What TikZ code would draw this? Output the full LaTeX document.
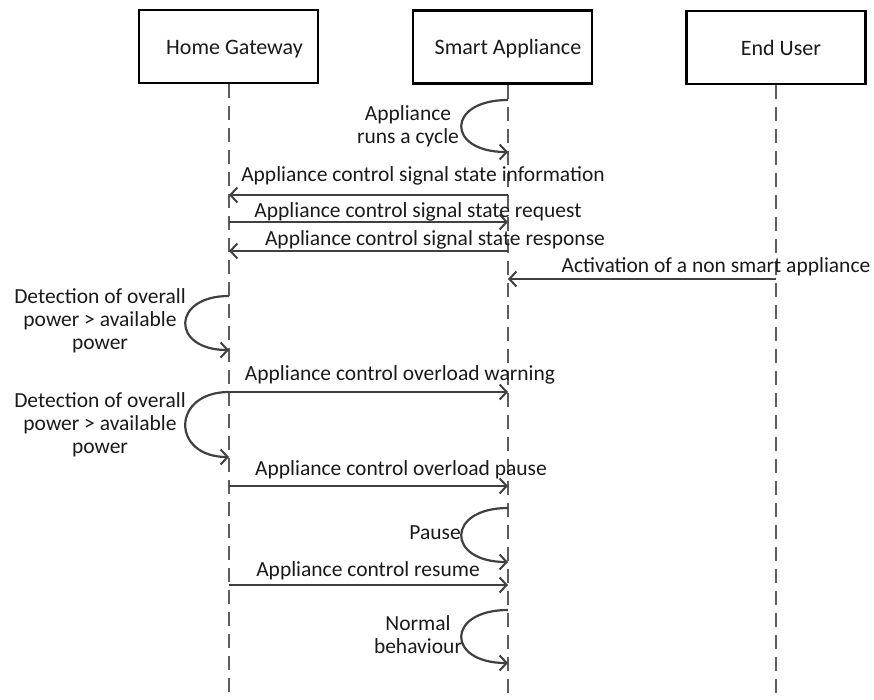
\documentclass[tikz,border=0pt]{standalone}
\usepackage{fontspec}
\setmainfont{Carlito}
\usetikzlibrary{arrows.meta}
\definecolor{ln}{HTML}{404040}
\definecolor{tx}{HTML}{1a1a1a}
\begin{document}
\begin{tikzpicture}[x=1pt,y=-1pt,
  actor/.style={draw=black, line width=2.8pt, minimum width=179pt, minimum height=73pt, inner sep=0pt, text height=20pt, text depth=4.5pt, font=\fontsize{22}{26}\selectfont, text=tx, fill=white},
  life/.style={draw=ln!85, line width=1.6pt, dash pattern=on 14pt off 8pt},
  msg/.style={draw=ln, line width=2.2pt, -{Straight Barb[length=7pt,width=15pt,line width=2pt]}},
  lbl/.style={font=\fontsize{21.5}{23}\selectfont, text=tx, inner sep=0pt},
  mlbl/.style={lbl, align=center}
]
\useasboundingbox (0,0) rectangle (874,700);

% actors
\node[actor] (hg) at (228.5,46.5) {\hspace*{12pt}Home Gateway};
\node[actor] (sa) at (502.5,47) {\hspace*{11pt}Smart Appliance};
\node[actor] (eu) at (776,47.5) {\hspace*{10pt}End User};

% lifelines
\coordinate (hgEnd) at (229,700);
\coordinate (saEnd) at (508,700);
\coordinate (euEnd) at (776,700);
\draw[life] (hg.south -| hgEnd) -- (hgEnd);
\draw[life] (sa.south -| saEnd) -- (saEnd);
\draw[life] (eu.south -| euEnd) -- (euEnd);

% self loop: appliance runs a cycle
\coordinate (c1a) at (508,100);
\coordinate (c1b) at (508,152);
\draw[msg] (c1a) .. controls +(-62,0) and +(-62,0) .. (c1b);
\node[mlbl] (t1) at (408,126) {Appliance\\runs a cycle};

% messages
\coordinate (s2) at (508,195); \coordinate (h2) at (229,195);
\draw[msg] (s2) -- (h2);
\node[lbl] (t2) at (423,176) {Appliance control signal state information};

\coordinate (h3) at (229,222); \coordinate (s3) at (508,222);
\draw[msg] (h3) -- (s3);
\node[lbl] (t3) at (418,212) {Appliance control signal state request};

\coordinate (s4) at (508,251); \coordinate (h4) at (229,251);
\draw[msg] (s4) -- (h4);
\node[lbl] (t4) at (435,240) {Appliance control signal state response};

\coordinate (e5) at (776,279); \coordinate (s5) at (508,279);
\draw[msg] (e5) -- (s5);
\node[lbl] (t5) at (716,267) {Activation of a non smart appliance};

% self loop: detection 1
\coordinate (d1a) at (229,296);
\coordinate (d1b) at (229,350);
\draw[msg] (d1a) .. controls +(-58,0) and +(-58,0) .. (d1b);
\node[mlbl] (t6) at (100,321) {Detection of overall\\power > available\\power};

\coordinate (h7) at (229,392); \coordinate (s7) at (508,392);
\draw[msg] (h7) -- (s7);
\node[lbl] (t7) at (400,375) {Appliance control overload warning};

% self loop: detection 2
\coordinate (d2a) at (229,392);
\coordinate (d2b) at (229,457);
\draw[msg] (d2a) .. controls +(-58,0) and +(-58,0) .. (d2b);
\node[mlbl] (t8) at (100,425) {Detection of overall\\power > available\\power};

\coordinate (h9) at (229,486); \coordinate (s9) at (508,486);
\draw[msg] (h9) -- (s9);
\node[lbl] (t9) at (401,470) {Appliance control overload pause};

% self loop: pause
\coordinate (p1a) at (508,508);
\coordinate (p1b) at (508,562);
\draw[msg] (p1a) .. controls +(-62,0) and +(-62,0) .. (p1b);
\node[lbl, anchor=east] (t10) at (461,533) {Pause};

\coordinate (h11) at (229,585); \coordinate (s11) at (508,585);
\draw[msg] (h11) -- (s11);
\node[lbl] (t11) at (368,571) {Appliance control resume};

% self loop: normal behaviour
\coordinate (n1a) at (508,610);
\coordinate (n1b) at (508,663);
\draw[msg] (n1a) .. controls +(-62,0) and +(-62,0) .. (n1b);
\node[mlbl] (t12) at (418,635) {Normal\\behaviour};
\end{tikzpicture}
\end{document}
